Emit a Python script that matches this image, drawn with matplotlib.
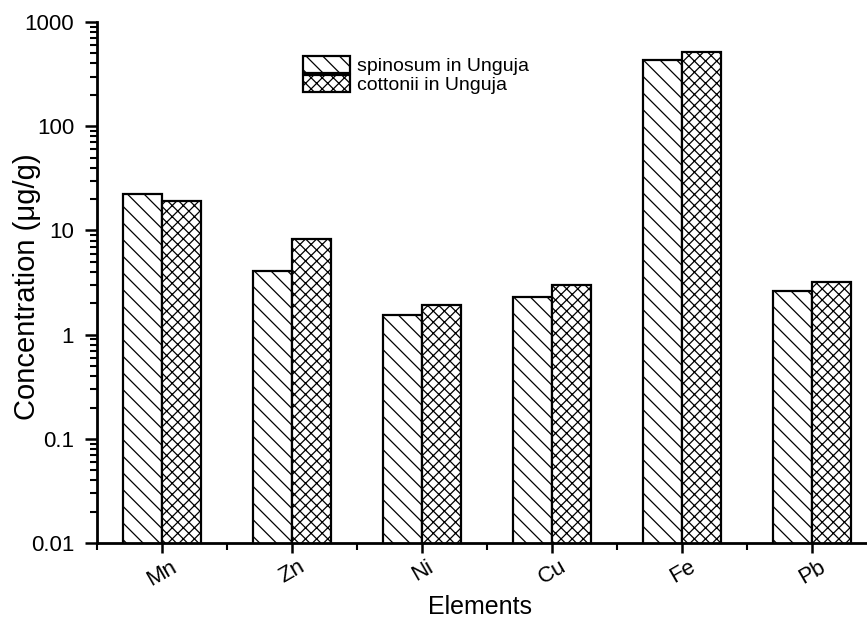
import matplotlib
matplotlib.use("Agg")
import matplotlib.pyplot as plt
import numpy as np
from matplotlib.ticker import LogLocator, FixedLocator

plt.rcParams['font.family'] = ['Liberation Sans', 'DejaVu Sans']
plt.rcParams['hatch.linewidth'] = 0.9

elements = ["Mn", "Zn", "Ni", "Cu", "Fe", "Pb"]
spinosum = [22.2, 4.1, 1.55, 2.32, 431, 2.65]
cottonii = [19.0, 8.2, 1.94, 3.02, 515, 3.23]
series_names = ["spinosum in Unguja", "cottonii in Unguja"]
ytick_labels = ["0.01", "0.1", "1", "10", "100", "1000"]

fig = plt.figure(figsize=(8.67, 6.2), dpi=100)
ax = fig.add_axes([0.112, 0.124, 0.888, 0.8405])

x = np.arange(len(elements))
w = 0.3
ax.bar(x - w/2, spinosum, width=w, color='white', edgecolor='black',
       linewidth=1.6, hatch='\\\\', label=series_names[0])
ax.bar(x + w/2, cottonii, width=w, color='white', edgecolor='black',
       linewidth=1.6, hatch='xxx', label=series_names[1])

ax.set_yscale('log')
ax.set_ylim(0.01, 1000)
ax.set_xlim(-0.5, 5.42)
ax.set_yticks([0.01, 0.1, 1, 10, 100, 1000])
ax.set_yticklabels(ytick_labels)
ax.yaxis.set_minor_locator(LogLocator(base=10, subs=np.arange(2, 10)))
ax.yaxis.set_minor_formatter(plt.NullFormatter())

ax.set_xticks(x)
ax.set_xticklabels(elements, rotation=30, ha='center')
ax.xaxis.set_minor_locator(FixedLocator(np.arange(-0.5, 5.5, 1.0)))

for s in ['top', 'right']:
    ax.spines[s].set_visible(False)
for s in ['left', 'bottom']:
    ax.spines[s].set_linewidth(2)

ax.tick_params(axis='y', which='major', direction='out', length=8.5, width=1.8,
               labelsize=16, pad=8)
ax.tick_params(axis='x', which='major', direction='out', length=7.5, width=1.8,
               labelsize=16, pad=2)
ax.tick_params(axis='both', which='minor', direction='out', length=5, width=1.5)

ax.set_ylabel("Concentration (μg/g)", fontsize=21)
ax.yaxis.set_label_coords(-0.073, 0.493)
ax.set_xlabel("Elements", fontsize=18)
ax.xaxis.set_label_coords(0.497, -0.1)

leg = ax.legend(loc='upper left', bbox_to_anchor=(0.2675, 0.935), frameon=False,
                fontsize=14, handlelength=2.4, handleheight=0.95,
                handletextpad=0.35, labelspacing=0.0, borderaxespad=0,
                borderpad=0)

fig.savefig("out.png", dpi=100)
